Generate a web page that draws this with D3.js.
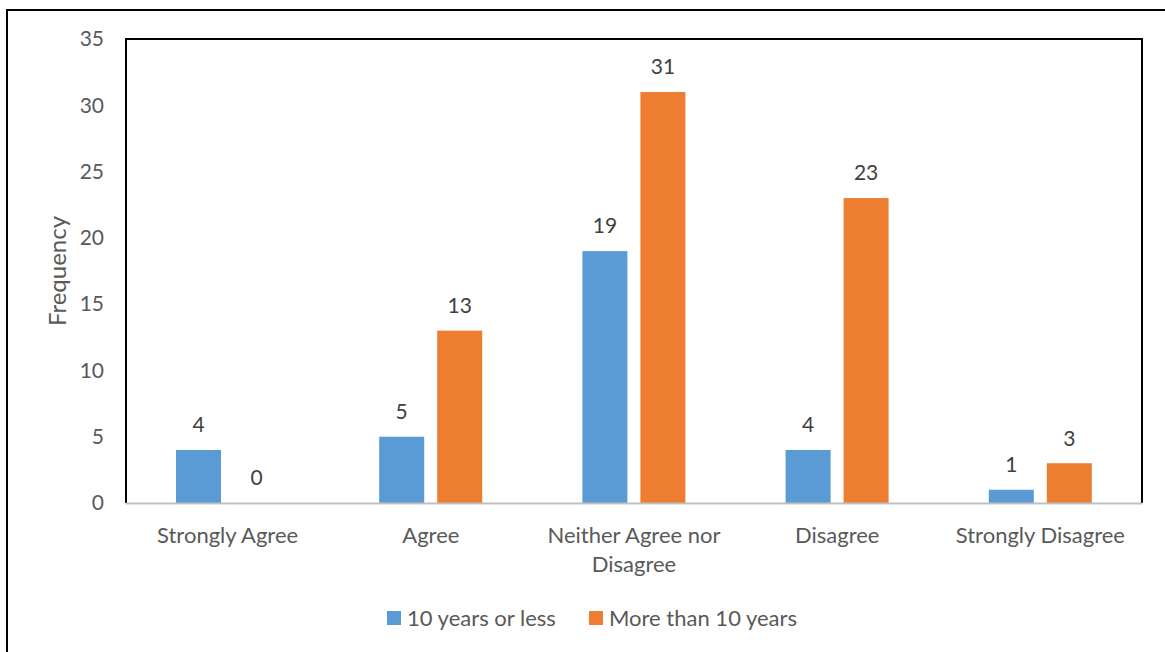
<!DOCTYPE html>
<html>
<head>
<meta charset="utf-8">
<script src="https://cdn.jsdelivr.net/npm/d3@7/dist/d3.min.js"></script>
<style>
  body { margin: 0; background: #fff; }
  svg { display: block; font-family: Lato, "Open Sans", sans-serif; }
</style>
</head>
<body>
<div id="chart"></div>
<script>
const categories = ['Strongly Agree', 'Agree', 'Neither Agree nor Disagree', 'Disagree', 'Strongly Disagree'];
const series = ['10 years or less', 'More than 10 years'];
const lessThan10 = [4, 5, 19, 4, 1];
const moreThan10 = [0, 13, 31, 23, 3];
const yTicks = [0, 5, 10, 15, 20, 25, 30, 35];
const colors = ['#5B9BD5', '#ED7D31'];

const width = 1165, height = 652;
const plotLeft = 126, plotRight = 1142, plotTop = 39, plotBottom = 503;
const textColor = '#595959';

const rows = categories.map((c, i) => ({ cat: c, values: [lessThan10[i], moreThan10[i]] }));

const svg = d3.select('#chart').append('svg')
    .attr('width', width)
    .attr('height', height);

// outer chart border
svg.append('rect')
    .attr('x', 7).attr('y', 10)
    .attr('width', width + 20).attr('height', height + 20)
    .attr('fill', 'none')
    .attr('stroke', '#000')
    .attr('stroke-width', 2);

const x0 = d3.scaleBand().domain(categories).range([plotLeft, plotRight]);
const x1 = d3.scaleBand().domain(series).range([50, 153]).paddingInner(0.224);
const y = d3.scaleLinear().domain([0, 35]).range([plotBottom, plotTop]);

// plot frame
svg.append('path')
    .attr('d', `M${plotLeft},${plotBottom}V${plotTop}H${plotRight}V${plotBottom}`)
    .attr('fill', 'none')
    .attr('stroke', '#000')
    .attr('stroke-width', 2);

// y tick labels
svg.append('g').selectAll('text')
    .data(yTicks)
    .enter().append('text')
    .attr('x', 104)
    .attr('y', d => y(d))
    .attr('dy', '0.35em')
    .attr('text-anchor', 'end')
    .attr('font-size', 21)
    .attr('fill', textColor)
    .text(d => d);

// y title
svg.append('text')
    .attr('transform', `translate(66,${(plotTop + plotBottom) / 2}) rotate(-90)`)
    .attr('text-anchor', 'middle')
    .attr('font-size', 24)
    .attr('fill', textColor)
    .text('Frequency');

// bars
const groups = svg.append('g').selectAll('g')
    .data(rows)
    .enter().append('g')
    .attr('transform', d => `translate(${x0(d.cat)},0)`);

groups.selectAll('rect')
    .data(d => d.values.map((v, i) => ({ key: series[i], value: v, i })))
    .enter().append('rect')
    .attr('x', d => x1(d.key))
    .attr('y', d => y(d.value))
    .attr('width', x1.bandwidth())
    .attr('height', d => y(0) - y(d.value))
    .attr('fill', d => colors[d.i]);

groups.selectAll('text')
    .data(d => d.values.map((v, i) => ({ key: series[i], value: v, i })))
    .enter().append('text')
    .attr('x', d => x1(d.key) + x1.bandwidth() / 2)
    .attr('y', d => y(d.value) - 25)
    .attr('dy', '0.35em')
    .attr('text-anchor', 'middle')
    .attr('font-size', 21)
    .attr('fill', '#404040')
    .text(d => d.value);

// x axis line
svg.append('line')
    .attr('x1', plotLeft).attr('x2', plotRight)
    .attr('y1', plotBottom + 0.5).attr('y2', plotBottom + 0.5)
    .attr('stroke', '#bfbfbf')
    .attr('stroke-width', 2);

// category labels, wrapped like the original
const wrapLines = { 'Neither Agree nor Disagree': ['Neither Agree nor', 'Disagree'] };
const catLabels = svg.append('g').selectAll('text')
    .data(categories)
    .enter().append('text')
    .attr('text-anchor', 'middle')
    .attr('font-size', 22)
    .attr('fill', textColor);

catLabels.selectAll('tspan')
    .data(d => (wrapLines[d] || [d]).map(t => ({ t, cat: d })))
    .enter().append('tspan')
    .attr('x', d => x0(d.cat) + x0.bandwidth() / 2)
    .attr('y', (d, i) => 535 + i * 29)
    .attr('dy', '0.35em')
    .text(d => d.t);

// legend
const legendPos = [387, 589];
const legend = svg.append('g').selectAll('g')
    .data(series)
    .enter().append('g')
    .attr('transform', (d, i) => `translate(${legendPos[i]},618)`);

legend.append('rect')
    .attr('x', 0).attr('y', -7)
    .attr('width', 14).attr('height', 14)
    .attr('fill', (d, i) => colors[i]);

legend.append('text')
    .attr('x', 20)
    .attr('dy', '0.35em')
    .attr('font-size', 22)
    .attr('fill', textColor)
    .text(d => d);
</script>
</body>
</html>
